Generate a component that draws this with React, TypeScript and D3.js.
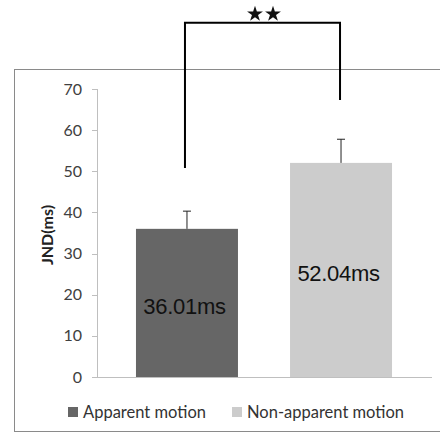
import React from "react";
import * as d3 from "d3";

const categories = ["Apparent motion", "Non-apparent motion"];
const means = [36.01, 52.04];
const errors = [4.3, 5.75];
const valueLabels = ["36.01ms", "52.04ms"];
const yTicks = [0, 10, 20, 30, 40, 50, 60, 70];
const barColors = ["#666666", "#cccccc"];
const bracketEnds = [50.8, 67.3];
const bracketTop = 86.1;
const sigLabel = "**";

export default function App() {
  const W = 440, H = 436;
  const y = d3.scaleLinear().domain([0, 70]).range([377, 89]);
  const x = d3.scaleBand<string>().domain(categories).range([97, 431]).paddingInner(0.338).paddingOuter(0.253);
  const bw = x.bandwidth();
  const cx = (c: string) => (x(c) as number) + bw / 2;
  const font = "Lato, 'Open Sans', sans-serif";
  const star = d3.symbol().type(d3.symbolStar).size(78)() as string;
  const bx0 = cx(categories[0]);
  const bx1 = cx(categories[1]);
  const legendX = [68, 232];
  return (
    <svg width={W} height={H} style={{ position: "absolute", left: 0, top: 0, background: "#fff" }}>
      <rect x={14.5} y={69.5} width={440} height={362} fill="none" stroke="#8a8a8a" strokeWidth={1} />
      {/* y axis */}
      <line x1={97.5} x2={97.5} y1={y(70)} y2={y(0)} stroke="#bfbfbf" />
      {yTicks.map((t) => (
        <g key={t}>
          <line x1={92} x2={97.5} y1={Math.round(y(t)) + 0.5} y2={Math.round(y(t)) + 0.5} stroke="#bfbfbf" />
          <text x={82} y={y(t)} dy="0.35em" textAnchor="end" fontFamily={font} fontSize={16} fill="#404040">{t}</text>
        </g>
      ))}
      <text transform={`translate(47,${(y(30) + y(40)) / 2 + 2}) rotate(-90)`} textAnchor="middle" dy="0.35em" fontFamily={font} fontSize={16} fontWeight="bold" fill="#222">JND(ms)</text>
      {/* bars */}
      {categories.map((c, i) => (
        <g key={c}>
          <rect x={x(c)} y={y(means[i])} width={bw} height={y(0) - y(means[i])} fill={barColors[i]} />
          <line x1={cx(c)} x2={cx(c)} y1={y(means[i])} y2={y(means[i] + errors[i])} stroke="#222" strokeWidth={1} />
          <line x1={cx(c) - 4} x2={cx(c) + 4} y1={y(means[i] + errors[i])} y2={y(means[i] + errors[i])} stroke="#222" strokeWidth={1} />
          <text x={cx(c) - 2.5} y={y(means[i] / 2) + 3} dy="0.35em" textAnchor="middle" fontFamily="'Liberation Sans', Arial, sans-serif" fontSize={22} letterSpacing={-0.3} fill="#111">{valueLabels[i]}</text>
        </g>
      ))}
      {/* x baseline */}
      <line x1={97} x2={432} y1={Math.round(y(0)) + 0.5} y2={Math.round(y(0)) + 0.5} stroke="#bfbfbf" />
      {/* significance bracket */}
      <path d={`M${bx0 - 2},${y(bracketEnds[0])}V${y(bracketTop)}H${bx1 - 1}V${y(bracketEnds[1])}`} fill="none" stroke="#000" strokeWidth={2} />
      {sigLabel.split("").map((_, k) => (
        <path key={k} d={star} transform={`translate(${(bx0 + bx1) / 2 - 9 + k * 18},14)`} fill="#111" />
      ))}
      {/* legend */}
      {categories.map((c, i) => (
        <g key={c}>
          <rect x={legendX[i]} y={407} width={10} height={10} fill={barColors[i]} />
          <text x={legendX[i] + 15} y={412} dy="0.35em" fontFamily={font} fontSize={16.5} fill="#333">{c}</text>
        </g>
      ))}
    </svg>
  );
}
